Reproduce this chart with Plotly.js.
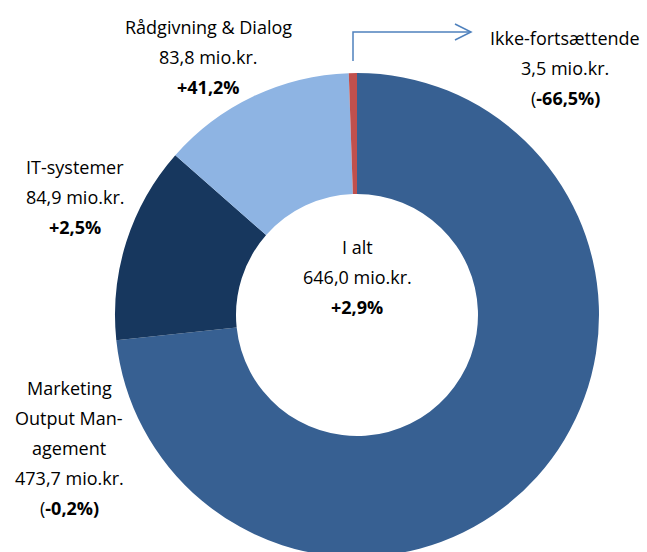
<!DOCTYPE html>
<html>
<head>
<meta charset="utf-8">
<script src="https://cdn.plot.ly/plotly-3.0.1.min.js"></script>
<style>
  html, body { margin: 0; padding: 0; overflow: hidden; background: #fff; }
  #chart { width: 647px; height: 560px; }
</style>
</head>
<body>
<div id="chart"></div>
<script>
// data
const segments = ['Marketing Output Management', 'IT-systemer', 'Rådgivning & Dialog', 'Ikke-fortsættende'];
const amounts = [473.7, 84.9, 83.8, 3.5];
const changes = ['(<b>-0,2%)</b>', '<b>+2,5%</b>', '<b>+41,2%</b>', '(<b>-66,5%)</b>'];
const totalAmount = 646.0;
const totalChange = '<b>+2,9%</b>';
const colors = ['#376092', '#17375E', '#8EB4E3', '#C0504D'];

const W = 647, H = 560;
const font = { family: '"Open Sans", Lato, sans-serif', size: 18, color: '#000' };

function fmt(v) { return v.toFixed(1).replace('.', ',') + ' mio.kr.'; }

// label blocks: lines per segment, centre x and first line y in pixels
const labelLines = [
  ['Marketing', 'Output Man-', 'agement', fmt(amounts[0]), changes[0]],
  [segments[1], fmt(amounts[1]), changes[1]],
  [segments[2], fmt(amounts[2]), changes[2]],
  [segments[3], fmt(amounts[3]), changes[3]],
  ['I alt', fmt(totalAmount), totalChange]
];
const labelPos = [[69, 388], [75, 167], [209, 27], [565, 38], [357, 247]];
const lineStep = 30;

const annotations = [];
labelLines.forEach((lines, i) => {
  lines.forEach((t, j) => {
    annotations.push({
      text: t, showarrow: false,
      xref: 'paper', yref: 'paper',
      x: labelPos[i][0] / W, y: 1 - (labelPos[i][1] + j * lineStep) / H,
      xanchor: 'center', yanchor: 'middle', font: font
    });
  });
});

function px(x) { return (x / W).toFixed(4); }
function py(y) { return (1 - y / H).toFixed(4); }

const trace = {
  type: 'pie',
  labels: segments,
  values: amounts,
  hole: 0.5,
  sort: false,
  direction: 'clockwise',
  rotation: 0,
  textinfo: 'none',
  hoverinfo: 'label+value',
  marker: { colors: colors, line: { width: 0 } },
  domain: { x: [115 / W, 599 / W], y: [3 / H, 487 / H] }
};

const layout = {
  width: W, height: H,
  margin: { l: 0, r: 0, t: 0, b: 0 },
  showlegend: false,
  paper_bgcolor: '#fff',
  annotations: annotations,
  shapes: [
    { type: 'path', xref: 'paper', yref: 'paper',
      path: `M${px(353)},${py(61)} L${px(353)},${py(32)} L${px(470)},${py(32)}`,
      line: { color: '#4F81BD', width: 1.5 } },
    { type: 'path', xref: 'paper', yref: 'paper',
      path: `M${px(455)},${py(24)} L${px(471)},${py(32)} L${px(455)},${py(40)}`,
      line: { color: '#4F81BD', width: 1.5 } }
  ]
};

Plotly.newPlot('chart', [trace], layout, { displayModeBar: false, staticPlot: true });
</script>
</body>
</html>
